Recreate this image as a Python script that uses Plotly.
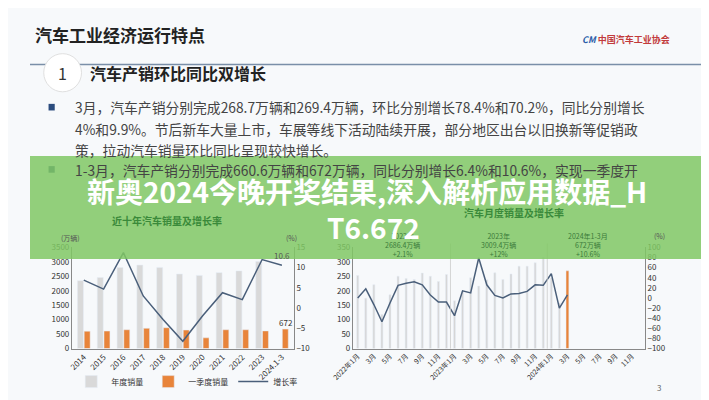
import plotly.graph_objects as go

years = ["2014","2015","2016","2017","2018","2019","2020","2021","2022","2023","2024.1-3"]
annual = [2349,2460,2803,2888,2808,2577,2531,2627,2686,3009,None]
q1 = [600,605,650,700,720,640,370,650,650,610,672]
growth = [6.9,4.7,13.7,3.0,-2.8,-8.2,-1.9,3.8,2.1,12.0,10.6]

month_labels = ["2022年1月","3月","5月","7月","9月","11月","2023年1月","3月","5月","7月","9月","11月",
                "2024年1月","3月","5月","7月","9月","11月"]
monthly = [253,174,221,118,186,250,242,239,261,250,232,256,
           165,197,245,216,238,262,239,258,285,285,297,316,
           244,158]
march24 = 269
mgrowth = [0,18,-13,-47,-10,25,29,32,26,6,-8,-8,
           -35,14,10,79,26,5,0,8,9,13,26,25,
           48,-20,6]

F = "Noto Sans CJK SC"
fig = go.Figure()
xi = list(range(len(years)))
fig.add_trace(go.Bar(x=[i-0.17 for i in xi], y=annual, width=0.3, marker_color="#d9d9d9", name="年度销量", xaxis="x", yaxis="y"))
fig.add_trace(go.Bar(x=[i+0.17 for i in xi], y=q1, width=0.3, marker_color="#e8843a", name="一季度销量", xaxis="x", yaxis="y"))
fig.add_trace(go.Scatter(x=xi, y=growth, mode="lines", line=dict(color="#4a5f7a", width=1.5), name="增长率", xaxis="x", yaxis="y2"))

mi = list(range(len(monthly)))
fig.add_trace(go.Bar(x=mi, y=monthly, width=0.25, marker_color="#d6d6d6", showlegend=False, xaxis="x3", yaxis="y3"))
fig.add_trace(go.Bar(x=[26], y=[march24], width=0.35, marker_color="#e8843a", showlegend=False, xaxis="x3", yaxis="y3"))
fig.add_trace(go.Scatter(x=list(range(len(mgrowth))), y=mgrowth, mode="lines", line=dict(color="#4a5f7a", width=1.5), showlegend=False, xaxis="x3", yaxis="y4"))

tf = dict(family=F, size=8, color="#333")
fig.update_layout(
    width=709, height=400, margin=dict(l=0, r=0, t=0, b=0),
    paper_bgcolor="#f7f9fb", plot_bgcolor="rgba(0,0,0,0)", barmode="overlay",
    font=dict(family=F),
    xaxis=dict(domain=[0.061, 0.384], range=[-0.6, 10.6], tickvals=xi, ticktext=years, tickangle=-45,
               tickfont=tf, showgrid=False, showline=True, linecolor="#888", zeroline=False),
    yaxis=dict(domain=[0.14, 0.40], range=[0, 3500], dtick=500, tickfont=tf, showgrid=False,
               showline=True, linecolor="#888", zeroline=False),
    yaxis2=dict(overlaying="y", side="right", anchor="x", range=[-10, 15], dtick=5, tickfont=tf,
                showgrid=False, showline=True, linecolor="#888", zeroline=False),
    xaxis3=dict(domain=[0.47, 0.895], range=[-0.6, 35.6], tickvals=list(range(0, 36, 2)), ticktext=month_labels,
                tickangle=-45, tickfont=dict(family=F, size=7, color="#333"), showgrid=False, showline=True,
                linecolor="#888", zeroline=False, anchor="y3"),
    yaxis3=dict(domain=[0.14, 0.40], range=[0, 350], dtick=50, tickfont=tf, showgrid=False, anchor="x3",
                showline=True, linecolor="#888", zeroline=False),
    yaxis4=dict(overlaying="y3", side="right", anchor="x3", range=[-100, 100], dtick=20, tickfont=tf,
                showgrid=False, showline=True, linecolor="#888", zeroline=False),
    legend=dict(orientation="h", x=0.06, y=0.055, xanchor="left", yanchor="middle",
                font=dict(family=F, size=8, color="#333"), bgcolor="rgba(0,0,0,0)"),
)

shapes = [
    dict(type="line", xref="paper", yref="paper", x0=0, x1=1, y0=0.87, y1=0.87, line=dict(color="#7a8fa8", width=1.5)),
    dict(type="circle", xref="paper", yref="paper", x0=0.02, x1=0.075, y0=0.8, y1=0.898, fillcolor="white", line=dict(color="#e0e0e0", width=1)),
    dict(type="rect", xref="paper", yref="paper", x0=0.027, x1=0.036, y0=0.752, y1=0.769, fillcolor="#2b4c7e", line_width=0),
    dict(type="rect", xref="paper", yref="paper", x0=0.027, x1=0.036, y0=0.592, y1=0.609, fillcolor="#2b4c7e", line_width=0),
    dict(type="line", xref="x3", yref="paper", x0=11.5, x1=11.5, y0=0.14, y1=0.41, line=dict(color="#ccc", width=0.8)),
    dict(type="line", xref="x3", yref="paper", x0=23.5, x1=23.5, y0=0.14, y1=0.41, line=dict(color="#ccc", width=0.8)),
    dict(type="rect", xref="paper", yref="paper", x0=0, x1=1, y0=0.37, y1=0.635, fillcolor="rgba(128,200,100,0.85)", line_width=0, layer="above"),
]
fig.update_layout(shapes=shapes)

def ann(x, y, text, size=11, color="#333", bold=False, xanchor="left", xref="paper", yref="paper"):
    if bold:
        text = "<b>" + text + "</b>"
    fig.add_annotation(x=x, y=y, xref=xref, yref=yref, text=text, showarrow=False, xanchor=xanchor,
                       yanchor="middle", font=dict(family=F, size=size, color=color), align="center")

ann(0.005, 0.948, "汽车工业经济运行特点", 17, "#222", True)
ann(0.8, 0.935, "<span style='color:#2b5da8'><b><i>CM</i></b></span> <span style='color:#c23b3b'><b>中国汽车工业协会</b></span>", 9)
ann(0.047, 0.848, "1", 16, "#333", xanchor="center")
ann(0.085, 0.848, "汽车产销环比同比双增长", 16, "#222", True)
ann(0.062, 0.76, "3月，汽车产销分别完成268.7万辆和269.4万辆，环比分别增长78.4%和70.2%，同比分别增长", 13.8, "#444")
ann(0.062, 0.705, "4%和9.9%。节后新车大量上市，车展等线下活动陆续开展，部分地区出台以旧换新等促销政", 13.8, "#444")
ann(0.062, 0.65, "策，拉动汽车销量环比同比呈现较快增长。", 13.8, "#444")
ann(0.062, 0.6, "1-3月，汽车产销分别完成660.6万辆和672万辆，同比分别增长6.4%和10.6%，实现一季度开", 13.8, "#444")
ann(0.2, 0.468, "近十年汽车销量及增长率", 10, "#3a8a3a", True, "center")
ann(0.705, 0.49, "汽车月度销量及增长率", 10, "#3a8a3a", True, "center")
ann(0.042, 0.425, "(万辆)", 7, "#555")
ann(0.37, 0.425, "(%)", 7, "#555")
ann(0.905, 0.43, "(%)", 7, "#555")
ann(10, 13, "10.6", 8, "#555", False, "center", "x", "y2")
ann(10.2, 900, "672", 8, "#333", False, "center", "x", "y")
ann(5.5, 0.405, "2022年<br>2686.4万辆<br>+2.1%", 7, "#3a7a3a", False, "center", "x3", "paper")
ann(17.5, 0.405, "2023年<br>3009.4万辆<br>+12%", 7, "#3a7a3a", False, "center", "x3", "paper")
ann(28.5, 0.405, "2024年1-3月<br>672万辆<br>+10.6%", 7, "#3a7a3a", False, "center", "x3", "paper")
ann(0.915, 0.04, "3", 8, "#666", False, "center")
ann(0.49, 0.545, "新奥2024今晚开奖结果,深入解析应用数据_H", 28, "white", True, "center")
ann(0.5, 0.452, "T6.672", 28, "white", True, "center")

fig.write_html("out.html")
